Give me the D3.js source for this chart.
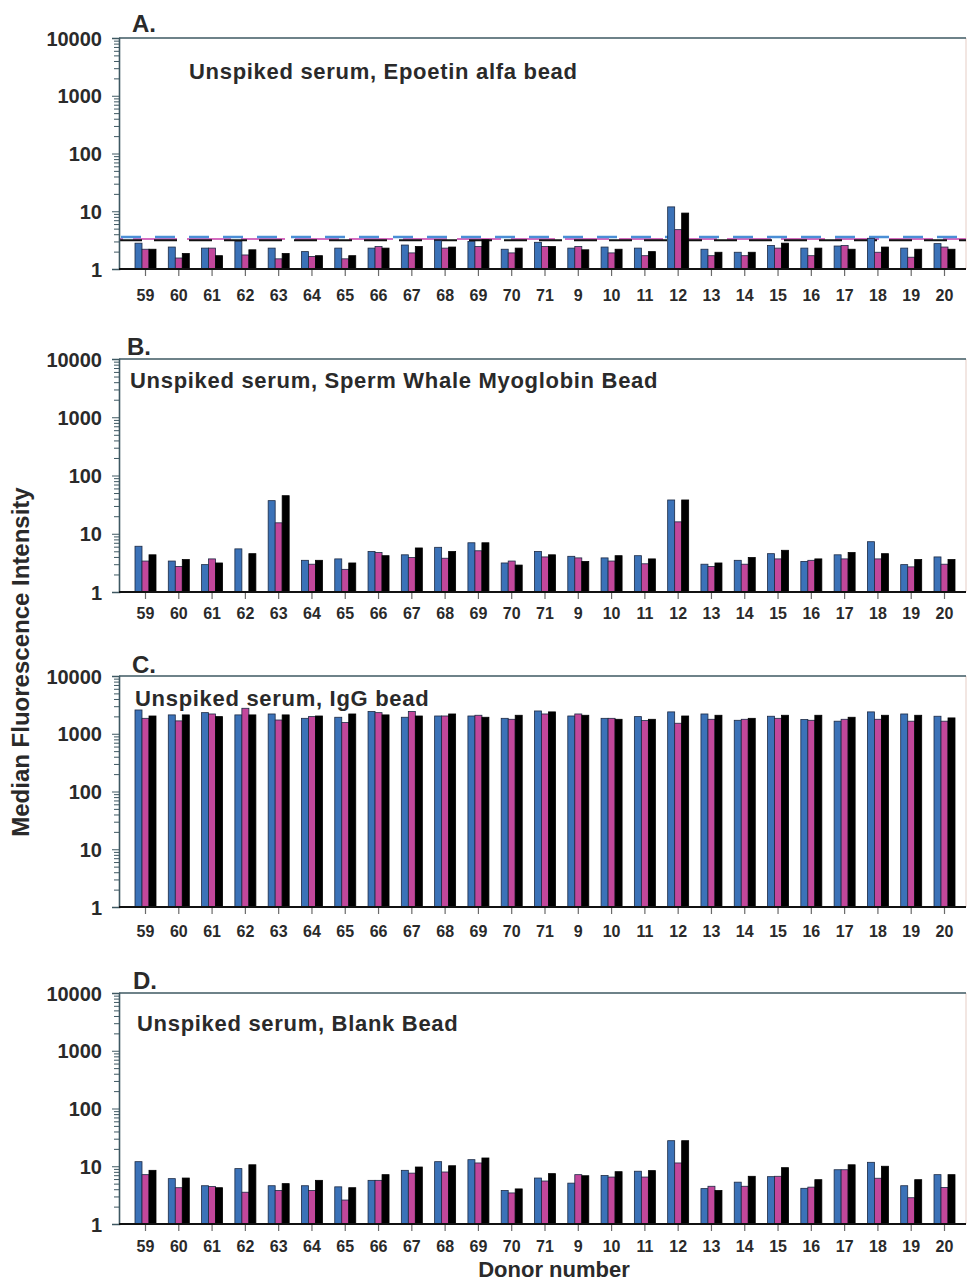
<!DOCTYPE html>
<html>
<head>
<meta charset="utf-8">
<script src="https://cdnjs.cloudflare.com/ajax/libs/d3/7.8.5/d3.min.js"></script>
<style>
  body { margin: 0; background: #fff; }
  text { font-family: "Liberation Sans", Arial, sans-serif; font-weight: bold; fill: #2a2a2a; }
</style>
</head>
<body>
<svg id="chart" width="968" height="1283"></svg>
<script>
// donor numbers along the x axis
var donors = ["59","60","61","62","63","64","65","66","67","68","69","70","71","9","10","11","12","13","14","15","16","17","18","19","20"];

// A. Epoetin alfa bead
var epoBlue  = [2.8,2.4,2.3,3.0,2.3,2.0,2.3,2.3,2.6,3.1,3.0,2.2,2.9,2.3,2.4,2.3,11.9,2.2,1.95,2.55,2.3,2.5,3.4,2.3,2.75];
var epoPink  = [2.2,1.55,2.3,1.75,1.5,1.65,1.5,2.45,1.9,2.3,2.45,1.9,2.45,2.45,1.9,1.7,4.8,1.7,1.7,2.3,1.7,2.55,1.95,1.6,2.4];
var epoBlack = [2.2,1.85,1.7,2.15,1.85,1.7,1.7,2.3,2.45,2.4,3.2,2.3,2.45,2.15,2.2,2.0,9.3,1.95,1.95,2.8,2.3,2.2,2.4,2.2,2.2];
// cut-off lines for panel A (blue, pink, black)
var epoCutoffs = [3.58, 3.3, 3.14];

// B. Sperm whale myoglobin bead
var myoBlue  = [6.1,3.4,2.95,5.5,37,3.5,3.7,4.95,4.35,5.85,7.0,3.15,4.95,4.1,3.85,4.2,38,3.0,3.5,4.55,3.35,4.35,7.3,2.95,4.0];
var myoPink  = [3.4,2.75,3.7,null,15.4,3.0,2.45,4.75,3.9,3.8,5.1,3.4,4.0,3.85,3.4,3.05,16,2.75,3.0,3.7,3.5,3.7,3.7,2.7,3.0];
var myoBlack = [4.35,3.6,3.15,4.55,45,3.5,3.15,4.2,5.7,4.95,7.0,2.9,4.35,3.35,4.2,3.7,38,3.15,3.9,5.2,3.7,4.75,4.55,3.6,3.6];

// C. IgG bead
var iggBlue  = [2580,2120,2320,2120,2200,1850,1930,2420,1930,2030,2030,1850,2480,2030,1850,1980,2390,2200,1710,2010,1760,1650,2390,2200,2010];
var iggPink  = [1850,1670,2200,2760,1730,1980,1560,2320,2420,2030,2090,1780,2200,2200,1850,1690,1520,1780,1780,1850,1710,1780,1780,1650,1650];
var iggBlack = [2030,2120,1980,2120,2120,2030,2200,2120,2030,2200,1930,2090,2390,2090,1780,1780,2030,2090,1850,2090,2090,1930,2090,2090,1880];

// D. Blank bead
var blankBlue  = [12.0,6.1,4.6,9.1,4.6,4.6,4.4,5.7,8.5,12.0,13.0,3.8,6.25,5.1,6.9,8.2,27.7,4.1,5.3,6.6,4.15,8.7,11.7,4.6,7.15];
var blankPink  = [7.15,4.25,4.45,3.55,3.8,3.8,2.6,5.7,7.6,7.95,11.4,3.45,5.55,7.15,6.5,6.5,11.4,4.5,4.5,6.7,4.35,8.7,6.2,2.85,4.3];
var blankBlack = [8.5,6.25,4.25,10.6,5.0,5.7,4.25,7.15,9.7,10.2,13.9,4.05,7.45,6.85,8.05,8.4,27.7,3.8,6.7,9.45,5.85,10.6,10.0,5.85,7.15];

var seriesColors = ["#3b72b8", "#c2479b", "#000000"];
var cutoffColors = ["#4a8fd6", "#d56cc0", "#111111"];

var svg = d3.select("#chart");
var left = 119, right = 966;

var x = d3.scalePoint().domain(donors).range([145, 944]);
var barW = 7;

var panels = [
  {label:"A.", sub:"Unspiked serum, Epoetin alfa bead", top:38, bottom:269, subX:189, subY:79, labX:132, labY:32, tickOff:26,
   series:[epoBlue, epoPink, epoBlack], cutoffs: epoCutoffs},
  {label:"B.", sub:"Unspiked serum, Sperm Whale Myoglobin Bead", top:359, bottom:592, subX:130, subY:388, labX:127, labY:355, tickOff:21,
   series:[myoBlue, myoPink, myoBlack]},
  {label:"C.", sub:"Unspiked serum, IgG bead", top:676, bottom:907, subX:135, subY:706, labX:132, labY:673, tickOff:24,
   series:[iggBlue, iggPink, iggBlack]},
  {label:"D.", sub:"Unspiked serum, Blank Bead", top:993, bottom:1224, subX:137, subY:1031, labX:133, labY:989, tickOff:22,
   series:[blankBlue, blankPink, blankBlack]}
];

// all log ticks 1..10000
var logTicks = [];
for (var p = 0; p < 4; p++) {
  for (var m = 1; m < 10; m++) logTicks.push(m * Math.pow(10, p));
}
logTicks.push(10000);

panels.forEach(function(pn){
  var y = d3.scaleLog().domain([1, 10000]).range([pn.bottom, pn.top]);
  var g = svg.append("g");

  // frame: faint right edge, dark top
  g.append("line").attr("x1", right).attr("x2", right).attr("y1", pn.top).attr("y2", pn.bottom)
    .attr("stroke", "#ead6cf").attr("stroke-width", 1.2);
  g.append("line").attr("x1", left).attr("x2", right).attr("y1", pn.top).attr("y2", pn.top)
    .attr("stroke", "#3e5862").attr("stroke-width", 1.6);

  // cutoff lines (panel A only)
  if (pn.cutoffs) {
    var dashes = ["20,14", "44,10", "23,12"];
    var drawOrder = [1, 2, 0];
    drawOrder.forEach(function(i){
      g.append("line")
        .attr("x1", left).attr("x2", right)
        .attr("y1", y(pn.cutoffs[i])).attr("y2", y(pn.cutoffs[i]))
        .attr("stroke", cutoffColors[i])
        .attr("stroke-width", i === 0 ? 2.6 : 2)
        .attr("stroke-dasharray", dashes[i])
        .attr("stroke-dashoffset", i === 0 ? -2 : (i === 1 ? -14 : 0));
    });
  }

  // bars
  pn.series.forEach(function(vals, si){
    g.selectAll(".bar" + si)
      .data(vals.map(function(v, i){ return {donor: donors[i], v: v}; }).filter(function(d){ return d.v != null; }))
      .enter().append("rect")
      .attr("x", function(d){ return x(d.donor) - 10 + si * barW; })
      .attr("y", function(d){ return y(d.v); })
      .attr("width", barW)
      .attr("height", function(d){ return pn.bottom - y(d.v); })
      .attr("fill", seriesColors[si])
      .attr("stroke", si === 2 ? "#000" : "#1c2a44")
      .attr("stroke-width", 0.8);
  });

  // y axis
  var yAxis = d3.axisLeft(y).tickValues(logTicks).tickSize(7).tickPadding(10)
    .tickFormat(function(d){ return [1,10,100,1000,10000].indexOf(d) >= 0 ? d : ""; });
  var ya = g.append("g").attr("transform", "translate(" + left + ",0)").call(yAxis);
  ya.select(".domain").attr("stroke", "#3e5862").attr("stroke-width", 1.6);
  ya.selectAll(".tick line").attr("stroke", "#3e5862")
    .attr("x2", function(d){ return [1,10,100,1000,10000].indexOf(d) >= 0 ? -7 : -5; });
  ya.selectAll(".tick text").style("font-size", "20px").attr("fill", "#222").attr("dy", "0.36em");

  // x axis
  var xAxis = d3.axisBottom(x).tickSize(7).tickSizeOuter(0);
  var xa = g.append("g").attr("transform", "translate(0," + pn.bottom + ")").call(xAxis);
  xa.select(".domain").remove();
  xa.selectAll(".tick line").attr("stroke", "#6a6a6a").attr("stroke-width", 1.2);
  xa.selectAll(".tick text").style("font-size", "16px").attr("fill", "#333")
    .attr("y", pn.tickOff).attr("dy", "0.36em");
  g.append("line").attr("x1", left).attr("x2", right).attr("y1", pn.bottom).attr("y2", pn.bottom)
    .attr("stroke", "#111").attr("stroke-width", 2);

  // panel letter + subtitle
  g.append("text").attr("x", pn.labX).attr("y", pn.labY).style("font-size", "24px").text(pn.label);
  g.append("text").attr("x", pn.subX).attr("y", pn.subY).style("font-size", "22px")
    .style("letter-spacing", "0.7px").text(pn.sub);
});

// shared axis titles
svg.append("text")
  .attr("transform", "translate(29,662) rotate(-90)")
  .attr("text-anchor", "middle")
  .style("font-size", "24px")
  .text("Median Fluorescence Intensity");

svg.append("text")
  .attr("x", 554).attr("y", 1277)
  .attr("text-anchor", "middle")
  .style("font-size", "22px")
  .text("Donor number");
</script>
</body>
</html>
